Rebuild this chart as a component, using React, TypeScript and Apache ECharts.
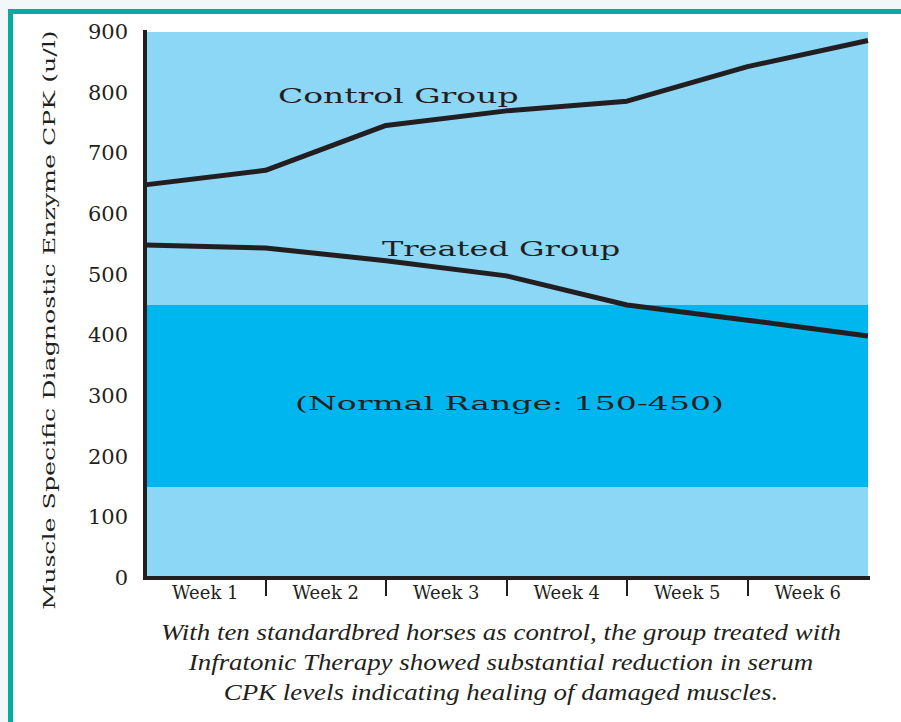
import React, { useEffect, useRef } from "react";
import * as echarts from "echarts";

const weekPoints = [0, 1, 2, 3, 4, 5, 6];
const weekLabels = ["Week 1", "Week 2", "Week 3", "Week 4", "Week 5", "Week 6"];
const controlValues = [648, 672, 746, 770, 786, 843, 886];
const treatedValues = [549, 544, 523, 498, 450, 425, 399];
const normalRange = [150, 450];
const yTicks = [0, 100, 200, 300, 400, 500, 600, 700, 800, 900];
const tickBoundaries = [1, 2, 3, 4, 5];
const labelCenters = [0.5, 1.5, 2.5, 3.5, 4.5, 5.5];

const INK = "#231f20";

export default function App() {
  const ref = useRef<HTMLDivElement>(null);
  useEffect(() => {
    if (!ref.current) return;
    const chart = echarts.init(ref.current, null, { renderer: "svg" });
    const serif = "DejaVu Serif";
    const serifFamily = "'DejaVu Serif', serif";
    const axisLineStyle = { color: INK, width: 4, cap: "square" as const };
    chart.setOption({
      animation: false,
      backgroundColor: "transparent",
      grid: {
        left: 145,
        top: 32,
        right: 33,
        bottom: 144,
        show: true,
        backgroundColor: "#8cd6f6",
        borderWidth: 0,
      },
      xAxis: [
        {
          type: "value",
          min: 0,
          max: 6,
          interval: 1,
          position: "bottom",
          z: 10,
          axisLine: { show: true, lineStyle: axisLineStyle },
          axisTick: {
            show: true,
            customValues: tickBoundaries,
            length: 18,
            lineStyle: { color: INK, width: 2 },
          },
          axisLabel: {
            show: true,
            customValues: labelCenters,
            margin: 5,
            formatter: (v: number) => weekLabels[Math.floor(v)] ?? "",
            fontFamily: serifFamily,
            fontSize: 18,
            color: INK,
          },
          splitLine: { show: false },
        },
        {
          type: "value",
          min: 0,
          max: 6,
          position: "top",
          z: 10,
          axisLine: { show: true, lineStyle: axisLineStyle },
          axisTick: { show: false },
          axisLabel: { show: false },
          splitLine: { show: false },
        },
      ],
      yAxis: [
        {
          type: "value",
          min: yTicks[0],
          max: yTicks[yTicks.length - 1],
          interval: 100,
          position: "left",
          z: 10,
          axisLine: { show: true, lineStyle: axisLineStyle },
          axisTick: { show: false },
          axisLabel: {
            margin: 17,
            fontFamily: serifFamily,
            fontSize: 21,
            color: INK,
          },
          splitLine: { show: false },
        },
        {
          type: "value",
          min: 0,
          max: 900,
          position: "right",
          z: 10,
          axisLine: { show: true, lineStyle: axisLineStyle },
          axisTick: { show: false },
          axisLabel: { show: false },
          splitLine: { show: false },
        },
      ],
      series: [
        {
          type: "line",
          name: "Normal Range",
          z: 1,
          data: [],
          silent: true,
          markArea: {
            silent: true,
            itemStyle: { color: "#00b6ef" },
            data: [[{ yAxis: normalRange[0] }, { yAxis: normalRange[1] }]],
          },
        },
        {
          type: "line",
          name: "Control Group",
          z: 3,
          symbol: "none",
          lineStyle: { color: INK, width: 5 },
          data: weekPoints.map((w, i) => [w, controlValues[i]]),
        },
        {
          type: "line",
          name: "Treated Group",
          z: 3,
          symbol: "none",
          lineStyle: { color: INK, width: 5 },
          data: weekPoints.map((w, i) => [w, treatedValues[i]]),
        },
      ],
      graphic: [
        {
          type: "text",
          x: 278,
          y: 96,
          scaleX: 1.65,
          z: 20,
          style: {
            text: "Control Group",
            font: `20px "${serif}"`,
            fill: INK,
            textAlign: "left",
            textVerticalAlign: "middle",
          },
        },
        {
          type: "text",
          x: 382,
          y: 249,
          scaleX: 1.6,
          z: 20,
          style: {
            text: "Treated Group",
            font: `20px "${serif}"`,
            fill: INK,
            textAlign: "left",
            textVerticalAlign: "middle",
          },
        },
        {
          type: "text",
          x: 295,
          y: 403,
          scaleX: 1.74,
          z: 20,
          style: {
            text: "(Normal Range: 150-450)",
            font: `19px "${serif}"`,
            fill: INK,
            textAlign: "left",
            textVerticalAlign: "middle",
          },
        },
        {
          type: "text",
          x: 49,
          y: 320,
          rotation: Math.PI / 2,
          scaleX: 1.58,
          z: 20,
          style: {
            text: "Muscle Specific Diagnostic Enzyme CPK (u/l)",
            font: `16px "${serif}"`,
            fill: INK,
            textAlign: "center",
            textVerticalAlign: "middle",
          },
        },
        {
          type: "text",
          x: 501,
          y: 662,
          scaleX: 1.12,
          z: 20,
          style: {
            text:
              "With ten standardbred horses as control, the group treated with\nInfratonic Therapy showed substantial reduction in serum\nCPK levels indicating healing of damaged muscles.",
            font: `italic 24px "Liberation Serif"`,
            lineHeight: 30,
            fill: INK,
            textAlign: "center",
            textVerticalAlign: "middle",
          },
        },
      ],
    });
    return () => chart.dispose();
  }, []);

  return (
    <div
      style={{
        position: "absolute",
        left: 0,
        top: 0,
        width: 901,
        height: 722,
        background: "#f2f7f9",
        overflow: "hidden",
      }}
    >
      <div
        style={{
          position: "absolute",
          left: 8,
          top: 9,
          width: 1000,
          height: 1000,
          background: "#ffffff",
          borderLeft: "5px solid #00ad9f",
          borderTop: "5px solid #00ad9f",
        }}
      />
      <div
        ref={ref}
        style={{ position: "absolute", left: 0, top: 0, width: 901, height: 722 }}
      />
    </div>
  );
}
